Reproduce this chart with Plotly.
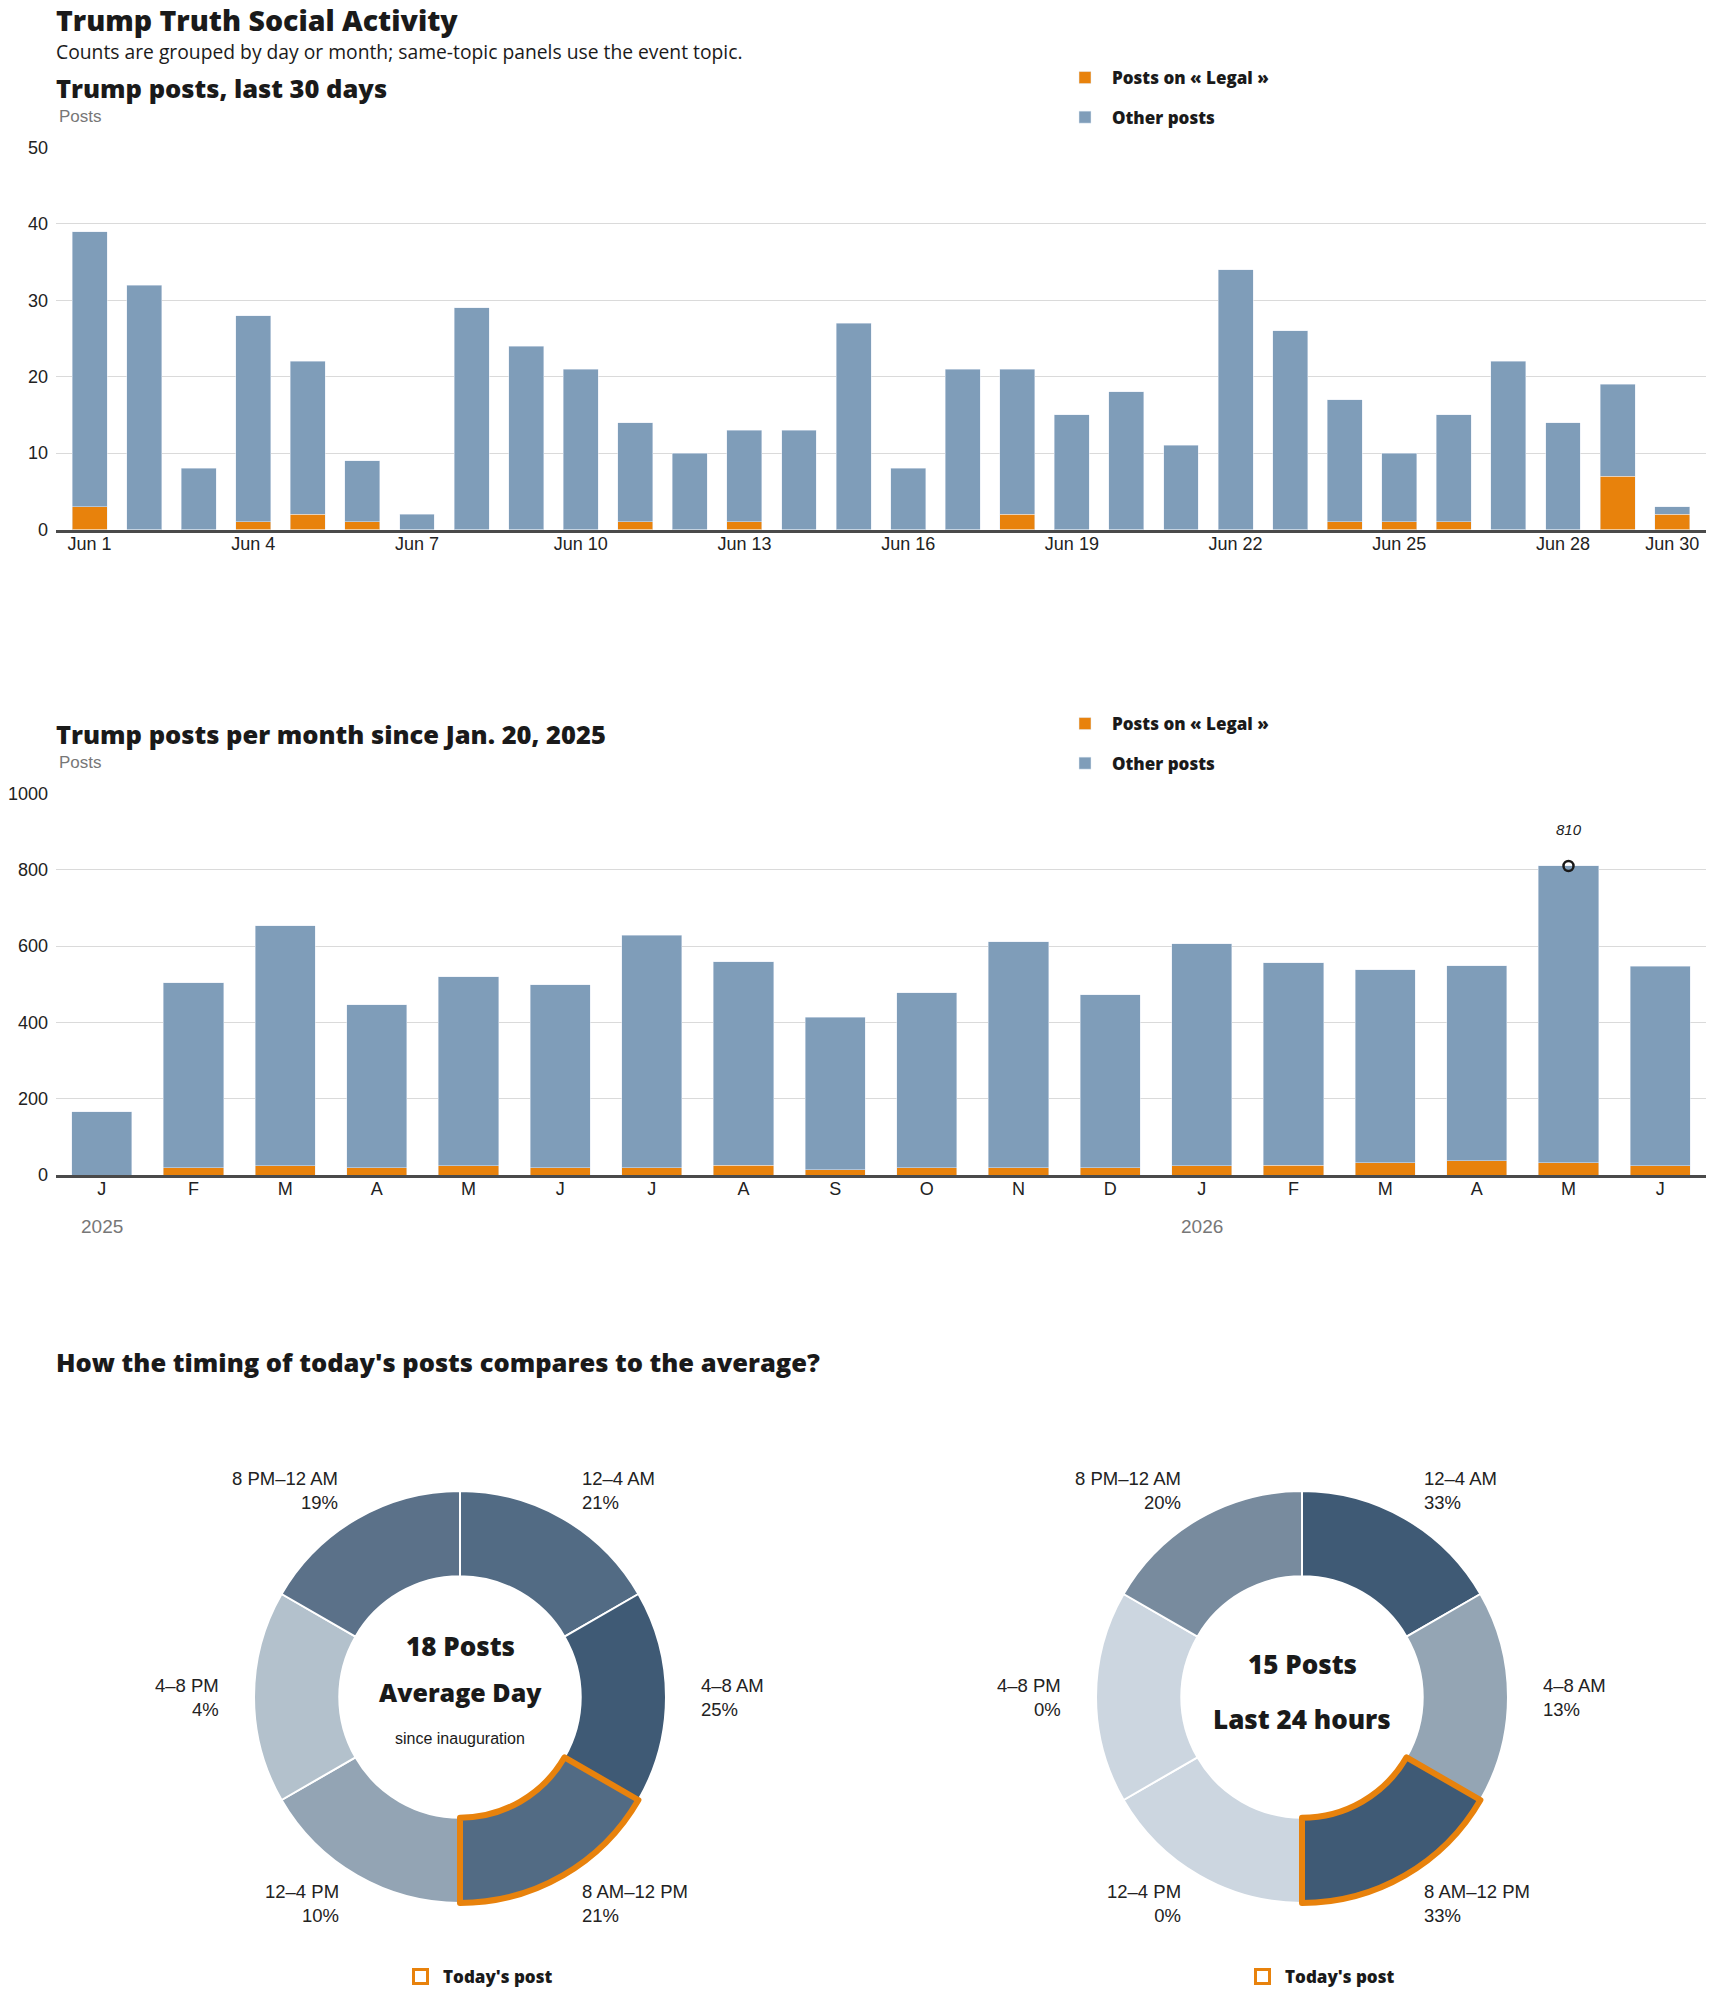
import math
import plotly.graph_objects as go

W, H = 1710, 1993

# ---------------- Data ----------------
day_labels = ["Jun 1", "Jun 2", "Jun 3", "Jun 4", "Jun 5", "Jun 6", "Jun 7", "Jun 8", "Jun 9", "Jun 10",
              "Jun 11", "Jun 12", "Jun 13", "Jun 14", "Jun 15", "Jun 16", "Jun 17", "Jun 18", "Jun 19", "Jun 20",
              "Jun 21", "Jun 22", "Jun 23", "Jun 24", "Jun 25", "Jun 26", "Jun 27", "Jun 28", "Jun 29", "Jun 30"]
day_ticks = ["Jun 1", "Jun 4", "Jun 7", "Jun 10", "Jun 13", "Jun 16", "Jun 19", "Jun 22", "Jun 25", "Jun 28", "Jun 30"]
daily_legal = [3, 0, 0, 1, 2, 1, 0, 0, 0, 0, 1, 0, 1, 0, 0, 0, 0, 2, 0, 0, 0, 0, 0, 1, 1, 1, 0, 0, 7, 2]
daily_other = [36, 32, 8, 27, 20, 8, 2, 29, 24, 21, 13, 10, 12, 13, 27, 8, 21, 19, 15, 18, 11, 34, 26, 16, 9, 14, 22, 14, 12, 1]

month_keys = ["2025-01", "2025-02", "2025-03", "2025-04", "2025-05", "2025-06", "2025-07", "2025-08", "2025-09",
              "2025-10", "2025-11", "2025-12", "2026-01", "2026-02", "2026-03", "2026-04", "2026-05", "2026-06"]
month_ticks = ["J", "F", "M", "A", "M", "J", "J", "A", "S", "O", "N", "D", "J", "F", "M", "A", "M", "J"]
monthly_legal = [0, 19, 24, 19, 24, 19, 19, 26, 14, 19, 19, 19, 24, 26, 32, 37, 32, 24]
monthly_other = [166, 485, 630, 427, 496, 480, 609, 533, 399, 459, 593, 453, 582, 531, 506, 512, 778, 523]
year_labels = {"2025-01": "2025", "2026-01": "2026"}

slot_labels = ["12–4 AM", "4–8 AM", "8 AM–12 PM", "12–4 PM", "4–8 PM", "8 PM–12 AM"]
slot_hours = [4, 4, 4, 4, 4, 4]
avg_pct = [21, 25, 21, 10, 4, 19]
last24_pct = [33, 13, 33, 0, 0, 20]
today_slot = "8 AM–12 PM"
avg_posts = 18
last24_posts = 15

# ---------------- Style ----------------
ORANGE = "#e8820c"
BLUE = "#7f9db9"
HEAD = "Open Sans, Liberation Sans, sans-serif"
BODY = "Liberation Sans, Arial, sans-serif"
SUB = "Open Sans, Liberation Sans, sans-serif"
avg_colors = ["#526b84", "#3f5a75", "#526b84", "#93a4b4", "#b3c1cc", "#5b7189"]
last24_colors = ["#3f5a75", "#94a5b4", "#3f5a75", "#ccd6e0", "#ccd6e0", "#788b9e"]


def px(x):
    return x / W


def py(y):
    return 1 - y / H


fig = go.Figure()

# ---- chart 1: last 30 days ----
fig.add_trace(go.Bar(x=day_labels, y=daily_legal, name="Posts on « Legal »", marker_color=ORANGE,
                     width=0.64, xaxis="x", yaxis="y", legend="legend", legendgroup="a"))
fig.add_trace(go.Bar(x=day_labels, y=daily_other, name="Other posts", marker_color=BLUE,
                     width=0.64, xaxis="x", yaxis="y", legend="legend", legendgroup="b"))

# ---- chart 2: per month ----
fig.add_trace(go.Bar(x=month_keys, y=monthly_legal, name="Posts on « Legal »", marker_color=ORANGE,
                     width=0.655, xaxis="x2", yaxis="y2", legend="legend2", legendgroup="c"))
fig.add_trace(go.Bar(x=month_keys, y=monthly_other, name="Other posts", marker_color=BLUE,
                     width=0.655, xaxis="x2", yaxis="y2", legend="legend2", legendgroup="d"))

monthly_total = [a + b for a, b in zip(monthly_legal, monthly_other)]
imax = max(range(len(monthly_total)), key=lambda i: monthly_total[i])
fig.add_trace(go.Scatter(x=[month_keys[imax]], y=[monthly_total[imax]], mode="markers",
                         marker=dict(symbol="circle-open", size=10, color="#1a1a1a",
                                     line=dict(width=2.5, color="#1a1a1a")),
                         showlegend=False, xaxis="x2", yaxis="y2"))

# ---- donuts ----
R = 206
CY = 1697
pies = [(460, avg_pct, avg_colors), (1302, last24_pct, last24_colors)]
for cx, pct, cols in pies:
    dom = dict(x=[px(cx - R), px(cx + R)], y=[py(CY + R), py(CY - R)])
    fig.add_trace(go.Pie(labels=slot_labels, values=slot_hours, customdata=pct, sort=False,
                         direction="clockwise", rotation=0, hole=0.586, textinfo="none",
                         marker=dict(colors=cols, line=dict(color="white", width=2)),
                         domain=dom, showlegend=False))
    hl_cols = [c if lab == today_slot else "rgba(0,0,0,0)" for lab, c in zip(slot_labels, cols)]
    hl_w = [6 if lab == today_slot else 0 for lab in slot_labels]
    fig.add_trace(go.Pie(labels=slot_labels, values=slot_hours, sort=False,
                         direction="clockwise", rotation=0, hole=0.586, textinfo="none",
                         marker=dict(colors=hl_cols, line=dict(color=ORANGE, width=hl_w)),
                         domain=dom, showlegend=False))

# "Today's post" legend entries
for lg in ["legend3", "legend4"]:
    fig.add_trace(go.Scatter(x=[None], y=[None], mode="markers", name="Today's post",
                             marker=dict(symbol="square-open", size=14, color=ORANGE,
                                         line=dict(width=3, color=ORANGE)),
                             legend=lg, xaxis="x", yaxis="y"))

# ---------------- Annotations ----------------
ann = []


def text(x, y, t, size, color="#1a1a1a", family=BODY, weight=None, xanchor="left", align="left", style=None):
    f = dict(size=size, color=color, family=family)
    if weight:
        f["weight"] = weight
    if style:
        f["style"] = style
    ann.append(dict(x=px(x), y=py(y), xref="paper", yref="paper", text=t, showarrow=False,
                    xanchor=xanchor, yanchor="middle", align=align, font=f))


text(54, 20, "Trump Truth Social Activity", 28.5, family=HEAD, weight=800)
text(54, 52, "Counts are grouped by day or month; same-topic panels use the event topic.", 19.3, family=SUB)
text(54, 88, "Trump posts, last 30 days", 25.5, family=HEAD, weight=800)
text(57, 116, "Posts", 17, color="#777777")
text(54, 734, "Trump posts per month since Jan. 20, 2025", 25.5, family=HEAD, weight=800)
text(57, 762, "Posts", 17, color="#777777")
text(54, 1362, "How the timing of today's posts compares to the average?", 25.5, family=HEAD, weight=800)

# year labels under monthly axis
for k, yl in year_labels.items():
    ann.append(dict(x=k, y=0, xref="x2", yref="y2", text=yl, showarrow=False, yshift=-51,
                    font=dict(size=19, color="#777777", family=BODY)))

# max annotation
ann.append(dict(x=month_keys[imax], y=monthly_total[imax], xref="x2", yref="y2",
                text=str(monthly_total[imax]), showarrow=False, yshift=36,
                font=dict(size=15, color="#222222", family=BODY, style="italic")))

# donut labels
for cx, pct, cols in pies:
    for i, (lab, p) in enumerate(zip(slot_labels, pct)):
        ang = math.radians(30 + 60 * i)
        lx = cx + 239 * math.sin(ang)
        ly = CY - 239 * math.cos(ang)
        if math.sin(ang) > 0:
            text(lx, ly, f"{lab}<br>{p}%", 18.5, color="#222222")
        else:
            text(lx, ly, f"{lab}<br>{p}%", 18.5, color="#222222", xanchor="right", align="right")

text(460, 1646, f"{avg_posts} Posts", 26, family=HEAD, weight=800, xanchor="center", align="center")
text(460, 1692, "Average Day", 25, family=HEAD, weight=800, xanchor="center", align="center")
text(460, 1738, "since inauguration", 16, xanchor="center", align="center")
text(1302, 1664, f"{last24_posts} Posts", 26, family=HEAD, weight=800, xanchor="center", align="center")
text(1302, 1719, "Last 24 hours", 26, family=HEAD, weight=800, xanchor="center", align="center")

# ---------------- Layout ----------------
tickfont = dict(size=18, color="#222222", family=BODY)
legfont = dict(size=17, color="#1a1a1a", family=HEAD, weight=800)


def leg(x, y, iw=44, gap=14.5):
    return dict(x=px(x), y=py(y), xanchor="left", yanchor="top", font=legfont, bgcolor="rgba(0,0,0,0)",
                traceorder="grouped", tracegroupgap=gap, itemclick=False, itemdoubleclick=False,
                itemwidth=iw)


fig.update_layout(
    width=W, height=H, margin=dict(l=0, r=0, t=0, b=0, autoexpand=False),
    paper_bgcolor="white", plot_bgcolor="white",
    barmode="stack", hovermode=False,
    annotations=ann,
    xaxis=dict(domain=[px(56), px(1706)], anchor="y", type="category", range=[-0.615, 29.62],
               tickmode="array", tickvals=day_ticks, ticktext=day_ticks, showgrid=False, ticks="",
               tickfont=tickfont, ticklabelstandoff=-4,
               showline=True, linecolor="#4a4a4a", linewidth=3, fixedrange=True),
    yaxis=dict(domain=[py(529.5), py(147.5)], anchor="x", range=[0, 50], dtick=10, showgrid=True,
               gridcolor="#dadada", gridwidth=1, zeroline=False, ticks="", tickfont=tickfont,
               ticklabelstandoff=7, showline=False, fixedrange=True),
    xaxis2=dict(domain=[px(56), px(1706)], anchor="y2", type="category", range=[-0.5, 17.5],
                tickmode="array", tickvals=month_keys, ticktext=month_ticks, showgrid=False, ticks="",
                tickfont=tickfont, ticklabelstandoff=-5,
                showline=True, linecolor="#4a4a4a", linewidth=3, fixedrange=True),
    yaxis2=dict(domain=[py(1175), py(793.5)], anchor="x2", range=[0, 1000], dtick=200, showgrid=True,
                gridcolor="#dadada", gridwidth=1, zeroline=False, ticks="", tickfont=tickfont,
                ticklabelstandoff=7, showline=False, fixedrange=True),
    legend=leg(1058, 60),
    legend2=leg(1058, 706),
    legend3=leg(398, 1959, iw=35),
    legend4=leg(1240, 1959, iw=35),
)

fig.write_html("out.html")
